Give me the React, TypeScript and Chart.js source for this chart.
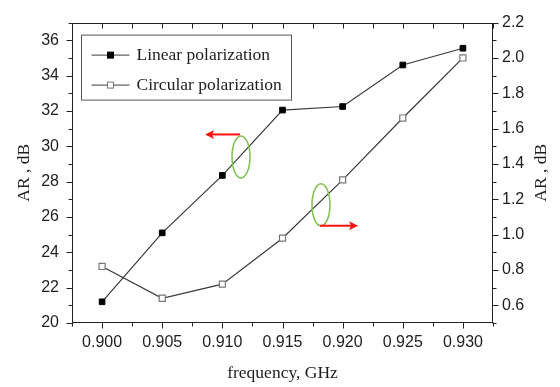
import React, { useEffect, useRef } from 'react';
import { Chart, registerables } from 'chart.js';

Chart.register(...registerables);

// ---- data ----
const frequencies = [0.9, 0.905, 0.91, 0.915, 0.92, 0.925, 0.93];
const linearAR = [21.2, 25.1, 28.35, 32.05, 32.25, 34.6, 35.55];
const circularAR = [0.82, 0.64, 0.72, 0.98, 1.31, 1.66, 2.0];
const seriesLabels = ['Linear polarization', 'Circular polarization'];
const xTitle = 'frequency, GHz';
const yTitle = 'AR , dB';
const xRange = [0.8975, 0.9325];
const yLeftRange = [20, 37];
const yRightRange = [0.5, 2.2];

// annotation marks (data units)
const leftEllipse = { x: 0.91155, y: 29.4, axis: 'y' };
const leftArrow = { x0: 0.91147, x1: 0.90856, y: 30.67, axis: 'y' };
const rightEllipse = { x: 0.9182, y: 1.169, axis: 'y1' };
const rightArrow = { x0: 0.91812, x1: 0.92128, y: 1.05, axis: 'y1' };

const TICK_FONT = { family: '"Liberation Sans", Arial, sans-serif', size: 16 };
const SERIF = '"Liberation Serif", "Times New Roman", serif';
const INK = '#1e1e1e';

const framePlugin = {
  id: 'frame',
  afterDraw(chart: any) {
    const { ctx, chartArea: a, scales } = chart;
    const L = Math.round(a.left) + 0.5;
    const R = Math.round(a.right) - 0.5;
    const T = Math.round(a.top) + 0.5;
    const B = Math.round(a.bottom) - 0.5;
    ctx.save();
    ctx.strokeStyle = '#222';
    ctx.lineWidth = 1;
    ctx.strokeRect(L, T, R - L, B - T);
    ctx.beginPath();
    // x ticks
    const xs = scales.x;
    xs.ticks.forEach((t: any) => {
      const px = Math.round(xs.getPixelForValue(t.value)) + 0.5;
      const major = Math.round(t.value * 10000) % 50 === 0;
      ctx.moveTo(px, B);
      ctx.lineTo(px, B + (major ? 6 : 4));
      ctx.moveTo(px, T);
      ctx.lineTo(px, T + 5);
    });
    // left y ticks
    const ys = scales.y;
    ys.ticks.forEach((t: any) => {
      const py = Math.round(ys.getPixelForValue(t.value)) + 0.5;
      const major = Math.round(t.value) % 2 === 0;
      ctx.moveTo(L, py);
      ctx.lineTo(L - (major ? 6 : 4), py);
    });
    // right y ticks
    const ys1 = scales.y1;
    ys1.ticks.forEach((t: any) => {
      const py = Math.round(ys1.getPixelForValue(t.value)) + 0.5;
      const major = Math.round(t.value * 10) % 2 === 0;
      ctx.moveTo(R, py);
      ctx.lineTo(R + (major ? 6 : 4), py);
    });
    ctx.stroke();

    // axis titles
    ctx.fillStyle = INK;
    ctx.font = `17.5px ${SERIF}`;
    ctx.textAlign = 'center';
    ctx.textBaseline = 'middle';
    ctx.fillText(xTitle, (a.left + a.right) / 2, 373);
    const cy = (a.top + a.bottom) / 2;
    [24, 541].forEach((x) => {
      ctx.save();
      ctx.translate(x, cy);
      ctx.rotate(-Math.PI / 2);
      ctx.fillText(yTitle, 0, 0);
      ctx.restore();
    });

    // legend
    const lx = a.left + 9.5;
    const ly = a.top + 12.5;
    ctx.strokeStyle = '#555';
    ctx.strokeRect(lx, ly, 210, 65);
    chart.data.datasets.forEach((ds: any, i: number) => {
      const y = ly + 20 + i * 30;
      ctx.strokeStyle = ds.borderColor;
      ctx.lineWidth = 1;
      ctx.beginPath();
      ctx.moveTo(lx + 10, y);
      ctx.lineTo(lx + 48, y);
      ctx.stroke();
      ctx.fillStyle = ds.pointBackgroundColor;
      ctx.strokeStyle = ds.pointBorderColor;
      ctx.fillRect(lx + 26, y - 3, 6, 6);
      ctx.strokeRect(lx + 26, y - 3, 6, 6);
      ctx.fillStyle = INK;
      ctx.textAlign = 'left';
      ctx.font = `17.5px ${SERIF}`;
      ctx.fillText(ds.label, lx + 55, y);
    });

    // annotations
    const drawEllipse = (e: any) => {
      const cx = xs.getPixelForValue(e.x);
      const cyy = scales[e.axis].getPixelForValue(e.y);
      ctx.strokeStyle = '#7fbf4d';
      ctx.lineWidth = 1.5;
      ctx.beginPath();
      ctx.ellipse(cx, cyy, 9, 21, 0, 0, Math.PI * 2);
      ctx.stroke();
    };
    const drawArrow = (ar: any) => {
      const x0 = xs.getPixelForValue(ar.x0);
      const x1 = xs.getPixelForValue(ar.x1);
      const y = scales[ar.axis].getPixelForValue(ar.y);
      const dir = Math.sign(x1 - x0);
      ctx.strokeStyle = '#ff1010';
      ctx.fillStyle = '#ff1010';
      ctx.lineWidth = 2;
      ctx.beginPath();
      ctx.moveTo(x0, y);
      ctx.lineTo(x1 - dir * 6, y);
      ctx.stroke();
      ctx.beginPath();
      ctx.moveTo(x1, y);
      ctx.lineTo(x1 - dir * 9, y - 4.5);
      ctx.lineTo(x1 - dir * 7, y);
      ctx.lineTo(x1 - dir * 9, y + 4.5);
      ctx.closePath();
      ctx.fill();
    };
    drawEllipse(leftEllipse);
    drawEllipse(rightEllipse);
    drawArrow(leftArrow);
    drawArrow(rightArrow);
    ctx.restore();
  },
};

export default function App() {
  const ref = useRef<HTMLCanvasElement | null>(null);
  useEffect(() => {
    document.body.style.margin = '0';
    const canvas = ref.current;
    if (!canvas) return;
    const chart = new Chart(canvas, {
      type: 'line',
      data: {
        datasets: [
          {
            label: seriesLabels[0],
            data: frequencies.map((f, i) => ({ x: f, y: linearAR[i] })),
            yAxisID: 'y',
            borderColor: '#3a3a3a',
            borderWidth: 1.2,
            pointStyle: 'rect',
            pointRadius: 4,
            pointBackgroundColor: '#000',
            pointBorderColor: '#000',
            pointBorderWidth: 1,
            fill: false,
            tension: 0,
          },
          {
            label: seriesLabels[1],
            data: frequencies.map((f, i) => ({ x: f, y: circularAR[i] })),
            yAxisID: 'y1',
            borderColor: '#3a3a3a',
            borderWidth: 1.2,
            pointStyle: 'rect',
            pointRadius: 4.3,
            pointBackgroundColor: '#fff',
            pointBorderColor: '#777',
            pointBorderWidth: 1.2,
            fill: false,
            tension: 0,
          },
        ],
      },
      options: {
        animation: false,
        responsive: false,
        maintainAspectRatio: false,
        layout: { padding: { top: 10, left: 0, right: 0, bottom: 0 } },
        plugins: { legend: { display: false }, tooltip: { enabled: false } },
        scales: {
          x: {
            type: 'linear',
            min: xRange[0],
            max: xRange[1],
            grid: { display: false, drawTicks: false },
            border: { display: false },
            ticks: {
              stepSize: 0.0025,
              autoSkip: false,
              maxRotation: 0,
              padding: 10,
              color: INK,
              font: TICK_FONT,
              callback: (v: any) => (Math.round(Number(v) * 10000) % 50 === 0 ? Number(v).toFixed(3) : ''),
            },
            afterFit: (s: any) => {
              s.height = 64;
            },
          },
          y: {
            type: 'linear',
            position: 'left',
            min: yLeftRange[0],
            max: yLeftRange[1],
            grid: { display: false, drawTicks: false },
            border: { display: false },
            ticks: {
              stepSize: 1,
              autoSkip: false,
              padding: 13,
              color: INK,
              font: TICK_FONT,
              callback: (v: any) => (Math.round(Number(v)) % 2 === 0 && Number(v) <= 36 ? String(v) : ''),
            },
            afterFit: (s: any) => {
              s.width = 72;
            },
          },
          y1: {
            type: 'linear',
            position: 'right',
            min: yRightRange[0],
            max: yRightRange[1],
            grid: { display: false, drawTicks: false },
            border: { display: false },
            ticks: {
              stepSize: 0.1,
              autoSkip: false,
              padding: 9,
              color: INK,
              font: TICK_FONT,
              callback: (v: any) => {
                const n = Math.round(Number(v) * 10);
                return n % 2 === 0 && n >= 6 ? (n / 10).toFixed(1) : '';
              },
            },
            afterFit: (s: any) => {
              s.width = 67;
            },
          },
        },
      },
      plugins: [framePlugin],
    });
    return () => chart.destroy();
  }, []);
  return (
    <div style={{ position: 'fixed', left: 0, top: 0, width: 560, height: 387, background: '#fff' }}>
      <canvas ref={ref} width={560} height={387} />
    </div>
  );
}
